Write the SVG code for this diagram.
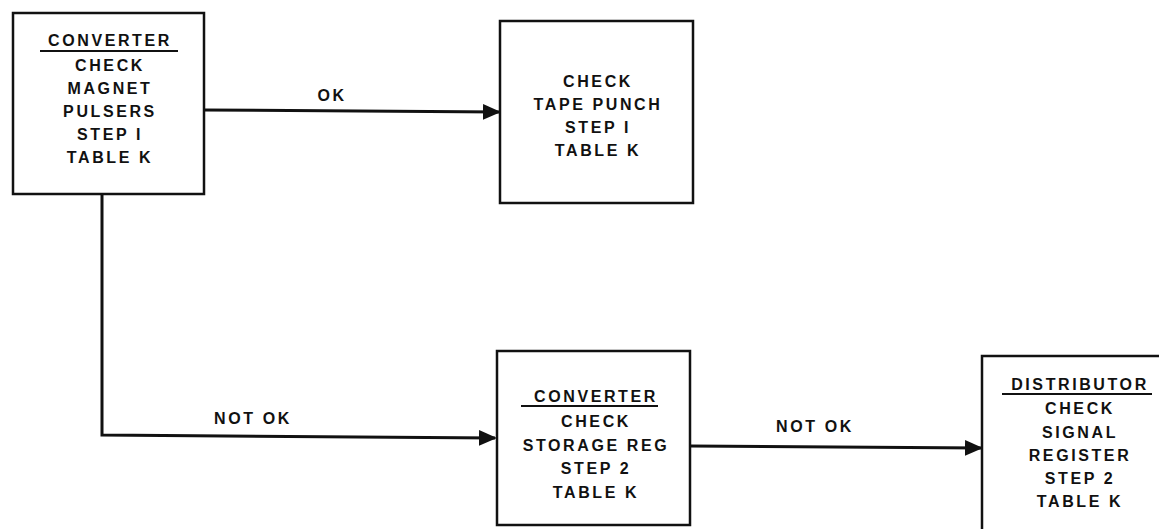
<svg xmlns="http://www.w3.org/2000/svg" width="1159" height="529" viewBox="0 0 1159 529">
<style>
.box{fill:#fff;stroke:#111;stroke-width:2.5}
.t{font-family:"Liberation Sans",Arial,sans-serif;font-weight:bold;font-size:16px;letter-spacing:2.6px;fill:#111;text-anchor:middle}
.u{stroke:#111;stroke-width:2}
.c{fill:none;stroke:#111;stroke-width:3}
</style>
<defs>
<marker id="ah" markerWidth="18" markerHeight="18" refX="16" refY="8" orient="auto" markerUnits="userSpaceOnUse" viewBox="0 0 18 16">
<path d="M0,0 L18,8 L0,16 Z" fill="#111"/>
</marker>
</defs>
<rect width="1159" height="529" fill="#fff"/>
<g id="connectors">
<path class="c" d="M204,110 L499,112" marker-end="url(#ah)"/>
<path class="c" d="M102,194 L102,435 L495,438" marker-end="url(#ah)"/>
<path class="c" d="M690,446 L981,448" marker-end="url(#ah)"/>
<text class="t" x="332" y="101">OK</text>
<text class="t" x="253" y="424">NOT OK</text>
<text class="t" x="815" y="432">NOT OK</text>
</g>
<g id="n1">
<rect class="box" x="13" y="13" width="191" height="181"/>
<text class="t" x="110" y="46">CONVERTER</text>
<line class="u" x1="40" y1="51" x2="178" y2="51"/>
<text class="t" x="110" y="71">CHECK</text>
<text class="t" x="110" y="94">MAGNET</text>
<text class="t" x="110" y="117">PULSERS</text>
<text class="t" x="110" y="140">STEP I</text>
<text class="t" x="110" y="163">TABLE K</text>
</g>
<g id="n2">
<rect class="box" x="500" y="21" width="193" height="182"/>
<text class="t" x="598" y="87">CHECK</text>
<text class="t" x="598" y="110">TAPE PUNCH</text>
<text class="t" x="598" y="133">STEP I</text>
<text class="t" x="598" y="156">TABLE K</text>
</g>
<g id="n3">
<rect class="box" x="497" y="351" width="193" height="174"/>
<text class="t" x="596" y="402">CONVERTER</text>
<line class="u" x1="521" y1="406" x2="658" y2="406"/>
<text class="t" x="596" y="427">CHECK</text>
<text class="t" x="596" y="451">STORAGE REG</text>
<text class="t" x="596" y="474">STEP 2</text>
<text class="t" x="596" y="498">TABLE K</text>
</g>
<g id="n4">
<rect class="box" x="982" y="356" width="190" height="190"/>
<text class="t" x="1080" y="390">DISTRIBUTOR</text>
<line class="u" x1="1002" y1="394" x2="1152" y2="394"/>
<text class="t" x="1080" y="414">CHECK</text>
<text class="t" x="1080" y="438">SIGNAL</text>
<text class="t" x="1080" y="461">REGISTER</text>
<text class="t" x="1080" y="484">STEP 2</text>
<text class="t" x="1080" y="507">TABLE K</text>
</g>
</svg>
